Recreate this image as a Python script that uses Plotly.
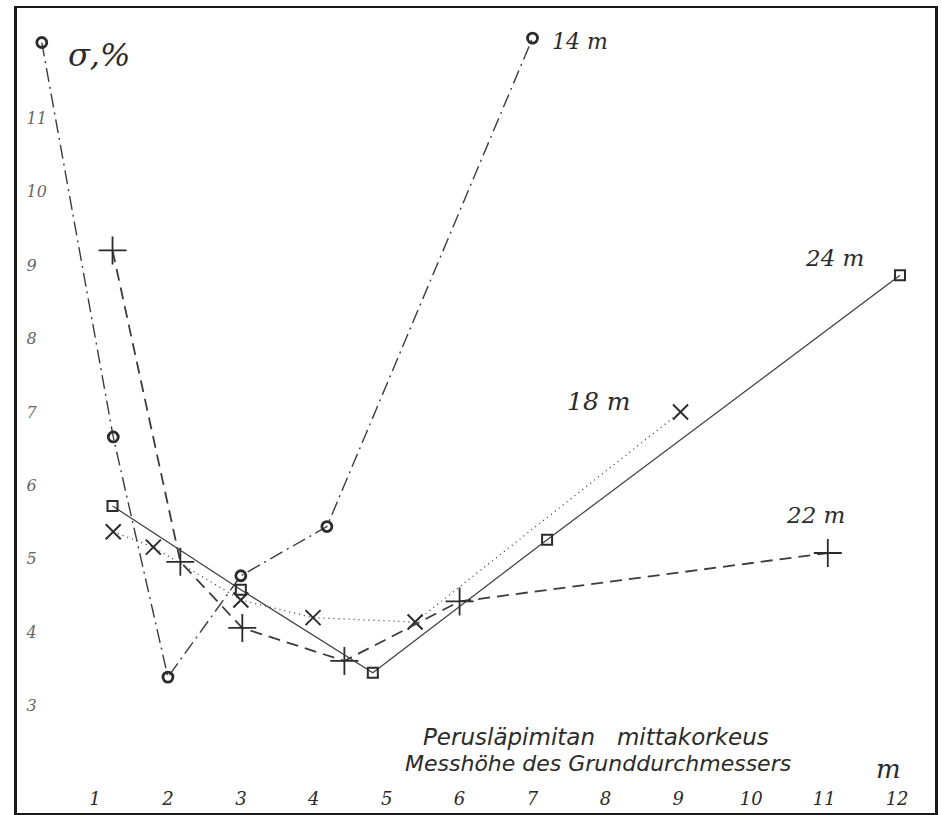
import plotly.graph_objects as go

x14 = [0.27, 1.25, 2.0, 3.0, 4.18, 7.0]
y14 = [12.03, 6.66, 3.39, 4.77, 5.44, 12.09]

x18 = [1.25, 1.8, 3.0, 3.99, 5.39, 9.03]
y18 = [5.37, 5.16, 4.44, 4.20, 4.14, 7.0]

x22 = [1.24, 2.17, 3.02, 4.42, 6.0, 11.05]
y22 = [9.2, 4.96, 4.06, 3.61, 4.42, 5.08]

x24 = [1.24, 3.0, 4.81, 7.2, 12.04]
y24 = [5.72, 4.58, 3.45, 5.26, 8.86]

xticks = list(range(1, 13))
xticklabels = [str(v) for v in xticks]
yticks = list(range(3, 12))
yticklabels = [str(v) for v in yticks]

ink = "#2b2b2b"
line_ink = "#3c3c3c"

fig = go.Figure()

fig.add_trace(go.Scatter(
    x=x14, y=y14, mode="lines+markers", name="14 m",
    line=dict(color=line_ink, width=1.4, dash="14px,5px,2px,5px"),
    marker=dict(symbol="circle-open", size=10, color=ink, line=dict(width=2.8, color=ink)),
))
fig.add_trace(go.Scatter(
    x=x18, y=y18, mode="lines+markers", name="18 m",
    line=dict(color=line_ink, width=1.3, dash="1px,4px"),
    marker=dict(symbol="x-thin-open", size=15, color=ink, line=dict(width=2, color=ink)),
))
fig.add_trace(go.Scatter(
    x=x22, y=y22, mode="lines+markers", name="22 m",
    line=dict(color=line_ink, width=1.8, dash="12px,7px"),
    marker=dict(symbol="cross-thin-open", size=20, color=ink, line=dict(width=1.8, color=ink)),
))
fig.add_trace(go.Scatter(
    x=x24, y=y24, mode="lines+markers", name="24 m",
    line=dict(color=line_ink, width=1.2),
    marker=dict(symbol="square-open", size=10, color=ink, line=dict(width=2, color=ink)),
))

labels = [
    ("σ,%", 1.05, 11.86, 32),
    ("14 m", 7.65, 12.05, 22),
    ("24 m", 11.14, 9.10, 23),
    ("18 m", 7.91, 7.14, 25),
    ("22 m", 10.88, 5.60, 23),
]
for txt, ax_, ay_, sz in labels:
    fig.add_annotation(x=ax_, y=ay_, text=f"<i>{txt}</i>", showarrow=False,
                       font=dict(family="DejaVu Serif", size=sz, color=ink))

fig.add_annotation(x=7.87, y=2.58, text="<i>Perusläpimitan&nbsp;&nbsp;&nbsp;mittakorkeus</i>",
                   showarrow=False, font=dict(family="DejaVu Sans", size=23, color=ink))
fig.add_annotation(x=7.90, y=2.21, text="<i>Messhöhe des Grunddurchmessers</i>",
                   showarrow=False, font=dict(family="DejaVu Sans", size=22, color=ink))
fig.add_annotation(x=11.88, y=2.14, text="<i>m</i>", showarrow=False,
                   font=dict(family="DejaVu Serif", size=26, color=ink))

fig.update_layout(
    width=942, height=815,
    margin=dict(l=17, r=7, t=8, b=2),
    paper_bgcolor="white", plot_bgcolor="white",
    showlegend=False,
    xaxis=dict(range=[-0.07, 12.52], tickvals=xticks, ticktext=xticklabels,
               ticklabelposition="inside", ticks="", ticklabelstandoff=5,
               showgrid=False, zeroline=False,
               showline=True, linewidth=2, linecolor="#1a1a1a", mirror=True,
               tickfont=dict(family="DejaVu Serif", size=18, color=ink, style="italic")),
    yaxis=dict(range=[1.54, 12.5], tickvals=yticks, ticktext=yticklabels,
               ticklabelposition="inside", ticks="", ticklabelstandoff=10,
               showgrid=False, zeroline=False,
               showline=True, linewidth=2.5, linecolor="#1a1a1a", mirror=True,
               tickfont=dict(family="DejaVu Serif", size=16, color="#666", style="italic")),
)

fig.write_html("out.html")
